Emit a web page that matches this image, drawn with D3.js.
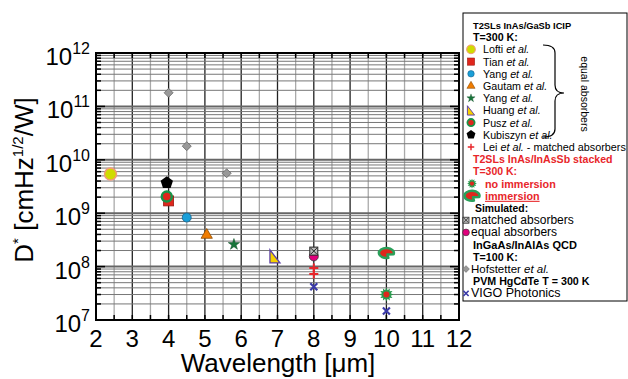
<!DOCTYPE html>
<html>
<head>
<meta charset="utf-8">
<script src="https://cdn.jsdelivr.net/npm/d3@7"></script>
<style>
body { margin: 0; background: #fff; }
text { font-family: "Liberation Sans", Arial, sans-serif; }
</style>
</head>
<body>
<svg id="chart" width="628" height="379"></svg>
<script>
// [wavelength (um), D* (cmHz^1/2/W)]
var lofti = [[2.4, 5.4e9]];
var tian = [[4.0, 1.7e9]];
var yangCircle = [[4.5, 8.3e8]];
var gautam = [[5.05, 3.9e8]];
var yangStar = [[5.8, 2.6e8]];
var huang = [[6.93, 1.55e8]];
var pusz = [[3.95, 2.05e9]];
var kubiszyn = [[3.95, 3.7e9]];
var lei = [[8, 9.4e7], [8, 7.3e7]];
var noImmersion = [[10, 3.0e7]];
var immersion = [[10, 1.8e8]];
var simEqual = [[8, 1.55e8]];
var simMatched = [[8, 1.95e8]];
var hofstetter = [[4, 1.8e11], [4.5, 1.8e10], [5.6, 5.6e9]];
var vigo = [[8, 4.2e7], [10, 1.47e7]];

var xTicks = [2, 3, 4, 5, 6, 7, 8, 9, 10, 11, 12];
var yExponents = [7, 8, 9, 10, 11, 12];

var legendRows = [
    { text: 'T2SLs InAs/GaSb ICIP', head: true },
    { text: 'T=300 K:', head: true },
    { name: 'Lofti', etal: true, marker: 'lofti' },
    { name: 'Tian', etal: true, marker: 'tian' },
    { name: 'Yang', etal: true, marker: 'yangCircle' },
    { name: 'Gautam', etal: true, marker: 'gautam' },
    { name: 'Yang', etal: true, marker: 'yangStar' },
    { name: 'Huang', etal: true, marker: 'huang' },
    { name: 'Pusz', etal: true, marker: 'pusz' },
    { name: 'Kubiszyn', etal: true, marker: 'kubiszyn' },
    { name: 'Lei', etal: true, rest: ' - matched absorbers', marker: 'lei' },
    { text: 'T2SLs InAs/InAsSb stacked', head: true, red: true },
    { text: 'T=300 K:', head: true, red: true },
    { name: 'no immersion', red: true, marker: 'noImmersion' },
    { name: 'immersion', red: true, underline: true, marker: 'immersion' },
    { text: 'Simulated:', head: true },
    { name: 'matched absorbers', marker: 'simMatched', small: true },
    { name: 'equal absorbers', marker: 'simEqual', small: true },
    { text: 'InGaAs/InAlAs QCD', head: true },
    { text: 'T=100 K:', head: true },
    { name: 'Hofstetter', etal: true, marker: 'hofstetter', small: true },
    { text: 'PVM HgCdTe T = 300 K', head: true },
    { name: 'VIGO Photonics', marker: 'vigo', small: true }
];

var svg = d3.select('#chart');
var pL = 96, pR = 459, pT = 53, pB = 320;

var x = d3.scaleLinear().domain([2, 12]).range([pL, pR]);
var y = d3.scaleLog().domain([1e7, 1e12]).range([pB, pT]);

var grid = svg.append('g');

// vertical grid every 0.5 um
x.ticks(20).forEach(function (t) {
    if (t == 2 || t == 12) return;
    grid.append('line')
        .attr('x1', x(t)).attr('x2', x(t))
        .attr('y1', pT).attr('y2', pB)
        .attr('stroke', t % 1 == 0 ? '#222' : '#aaa')
        .attr('stroke-width', 1.3);
});

// horizontal log grid
yExponents.forEach(function (e) {
    if (e == 12) return;
    for (var m = 1; m < 10; m++) {
        var v = m * Math.pow(10, e);
        if (m == 1 && e == 7) continue;
        grid.append('line')
            .attr('x1', pL).attr('x2', pR)
            .attr('y1', y(v)).attr('y2', y(v))
            .attr('stroke', m == 1 ? '#666' : '#777')
            .attr('stroke-width', m == 1 ? 2 : 1);
    }
});

// inward ticks
var ticks = svg.append('g').attr('stroke', '#000').attr('stroke-width', 1.5);
x.ticks(20).forEach(function (t) {
    ticks.append('line').attr('x1', x(t)).attr('x2', x(t)).attr('y1', pB).attr('y2', pB - 5);
    ticks.append('line').attr('x1', x(t)).attr('x2', x(t)).attr('y1', pT).attr('y2', pT + 5);
});
yExponents.forEach(function (e) {
    for (var m = 1; m < 10; m++) {
        var v = m * Math.pow(10, e);
        if (v > 1e12) break;
        var len = m == 1 ? 9 : 5;
        ticks.append('line').attr('x1', pL).attr('x2', pL + len).attr('y1', y(v)).attr('y2', y(v));
        ticks.append('line').attr('x1', pR).attr('x2', pR - len).attr('y1', y(v)).attr('y2', y(v));
    }
});

// frame
svg.append('rect')
    .attr('x', pL).attr('y', pT)
    .attr('width', pR - pL).attr('height', pB - pT)
    .attr('fill', 'none').attr('stroke', '#000').attr('stroke-width', 2);

// tick labels
svg.selectAll('.xlab')
    .data(xTicks).enter()
    .append('text')
    .attr('x', function (d) { return x(d); })
    .attr('y', 347)
    .attr('text-anchor', 'middle')
    .attr('font-size', 24)
    .text(function (d) { return d; });

var ylab = svg.selectAll('.ylab')
    .data(yExponents).enter()
    .append('text')
    .attr('x', 90)
    .attr('y', function (d) { return y(Math.pow(10, d)) + 12; })
    .attr('text-anchor', 'end')
    .attr('font-size', 24);
ylab.append('tspan').text('10');
ylab.append('tspan').attr('dy', -11).attr('font-size', 16).text(function (d) { return d; });

// axis titles
svg.append('text')
    .attr('x', 278).attr('y', 372)
    .attr('text-anchor', 'middle')
    .attr('font-size', 26)
    .text('Wavelength [\u03bcm]');

var yt = svg.append('text')
    .attr('transform', 'translate(33,180) rotate(-90)')
    .attr('text-anchor', 'middle')
    .attr('font-size', 26);
yt.append('tspan').text('D');
yt.append('tspan').attr('dy', -10).attr('font-size', 15).text('*');
yt.append('tspan').attr('dy', 10).text(' [cmHz');
yt.append('tspan').attr('dy', -10).attr('font-size', 15).text('1/2');
yt.append('tspan').attr('dy', 10).text('/W]');

// marker drawing
function drawMarker(g, kind) {
    var sym = d3.symbol();
    if (kind == 'lofti') {
        g.append('circle').attr('r', 6).attr('fill', '#cfdc00').attr('stroke', '#f29a78').attr('stroke-width', 1.5);
    } else if (kind == 'tian') {
        g.append('rect').attr('x', -5).attr('y', -5).attr('width', 10).attr('height', 10)
            .attr('fill', '#e0261c').attr('stroke', '#9b1a12').attr('stroke-width', 0.8);
    } else if (kind == 'yangCircle') {
        g.append('circle').attr('r', 4.5).attr('fill', '#1a9fd8').attr('stroke', '#15608a').attr('stroke-width', 0.8);
    } else if (kind == 'gautam') {
        g.append('path').attr('d', sym.type(d3.symbolTriangle).size(55)())
            .attr('fill', '#f07c00').attr('stroke', '#8a4a00').attr('stroke-width', 0.8);
    } else if (kind == 'yangStar') {
        g.append('path').attr('d', sym.type(d3.symbolStar).size(40)())
            .attr('fill', '#17753a').attr('stroke', '#0e4a24').attr('stroke-width', 0.5);
    } else if (kind == 'huang') {
        g.append('path').attr('d', 'M-5,-6.5 L5,6.5 L-5,6.5 Z')
            .attr('fill', '#f5d000').attr('stroke', '#5b3fa5').attr('stroke-width', 1.3);
    } else if (kind == 'pusz') {
        g.append('circle').attr('r', 5).attr('fill', '#e0261c').attr('stroke', '#179448').attr('stroke-width', 2.5);
    } else if (kind == 'kubiszyn') {
        var pts = d3.range(5).map(function (i) {
            var a = -Math.PI / 2 + i * 2 * Math.PI / 5;
            return [6.5 * Math.cos(a), 6.5 * Math.sin(a)];
        });
        g.append('path').attr('d', 'M' + pts.join('L') + 'Z').attr('fill', '#000');
    } else if (kind == 'lei') {
        g.append('path').attr('d', 'M-4.5,0H4.5M0,-4.5V4.5')
            .attr('stroke', '#e8262a').attr('stroke-width', 2);
    } else if (kind == 'noImmersion') {
        var burst = d3.range(24).map(function (i) {
            var a = i * Math.PI / 12;
            var r = i % 2 == 0 ? 7 : 4.5;
            return [r * Math.cos(a), r * Math.sin(a)];
        });
        g.append('path').attr('d', 'M' + burst.join('L') + 'Z').attr('fill', '#2a9a4e');
        g.append('circle').attr('r', 3).attr('fill', '#e0261c');
    } else if (kind == 'immersion') {
        var rx = 7.5, ry = 5, a1 = 15 * Math.PI / 180, a2 = 75 * Math.PI / 180;
        g.append('path')
            .attr('d', 'M1,1.5L' + rx * Math.cos(a2) + ',' + ry * Math.sin(a2) +
                'A' + rx + ',' + ry + ' 0 1,1 ' + rx * Math.cos(a1) + ',' + ry * Math.sin(a1) + 'Z')
            .attr('fill', '#e0261c').attr('stroke', '#2aa05a').attr('stroke-width', 2.5)
            .attr('stroke-linejoin', 'round');
    } else if (kind == 'simMatched') {
        g.append('rect').attr('x', -4).attr('y', -4).attr('width', 8).attr('height', 8)
            .attr('fill', '#bbb').attr('stroke', '#222').attr('stroke-width', 1);
        g.append('path').attr('d', 'M-3,-3L3,3M-3,3L3,-3').attr('stroke', '#222').attr('stroke-width', 1);
    } else if (kind == 'simEqual') {
        g.append('circle').attr('r', 4.5).attr('fill', '#e0007c').attr('stroke', '#333').attr('stroke-width', 0.8);
    } else if (kind == 'hofstetter') {
        g.append('path').attr('d', 'M0,-4.5L4.5,0L0,4.5L-4.5,0Z')
            .attr('fill', '#999').attr('stroke', '#666').attr('stroke-width', 0.8);
    } else if (kind == 'vigo') {
        g.append('path').attr('d', 'M-3.5,-3.5L3.5,3.5M-3.5,3.5L3.5,-3.5')
            .attr('stroke', '#3a3aa8').attr('stroke-width', 2.2);
    }
}

var seriesList = [
    ['hofstetter', hofstetter], ['lofti', lofti], ['tian', tian], ['kubiszyn', kubiszyn],
    ['pusz', pusz], ['yangCircle', yangCircle], ['gautam', gautam], ['yangStar', yangStar],
    ['huang', huang], ['simEqual', simEqual], ['simMatched', simMatched], ['lei', lei],
    ['vigo', vigo], ['immersion', immersion], ['noImmersion', noImmersion]
];

var marks = svg.append('g');
seriesList.forEach(function (s) {
    marks.selectAll('.m-' + s[0])
        .data(s[1]).enter()
        .append('g')
        .attr('transform', function (d) { return 'translate(' + x(d[0]) + ',' + y(d[1]) + ')'; })
        .each(function () { drawMarker(d3.select(this), s[0]); });
});

// legend
var legend = svg.append('g');
legend.append('rect')
    .attr('x', 463).attr('y', 13).attr('width', 164).attr('height', 288)
    .attr('fill', '#fff').attr('stroke', '#000').attr('stroke-width', 1);

// font sizes differ a bit from row to row in the original
function legendFont(i) {
    var sizes = { 0: 9.3, 10: 10.8, 11: 10.6, 12: 10.5, 13: 10.8, 14: 10.8, 15: 10.4,
        16: 12, 17: 12, 18: 11, 20: 11.5, 22: 12.5 };
    return sizes[i] || 10.7;
}

legendRows.forEach(function (r, i) {
    var by = 29 + i * 12.2;
    if (r.head) {
        legend.append('text')
            .attr('x', i == 15 ? 475 : 473).attr('y', by)
            .attr('font-size', legendFont(i)).attr('font-weight', 'bold')
            .attr('fill', r.red ? '#e8262a' : '#000')
            .text(r.text);
        return;
    }
    var mx = r.small ? 466 : 471;
    var tx = r.small ? 471 : 483;
    var sc = r.small ? 0.75 : 0.72;
    if (r.red) { mx = 472; tx = 485; sc = r.marker == 'immersion' ? 1 : 0.7; }
    var gm = legend.append('g').attr('transform', 'translate(' + mx + ',' + (by - 4) + ') scale(' + sc + ')');
    drawMarker(gm, r.marker);
    var t = legend.append('text')
        .attr('x', tx).attr('y', by)
        .attr('font-size', legendFont(i))
        .attr('fill', r.red ? '#e8262a' : '#000')
        .attr('font-weight', r.red ? 'bold' : 'normal')
        .attr('text-decoration', r.underline ? 'underline' : null);
    t.append('tspan').text(r.name + (r.etal ? ' ' : ''));
    if (r.etal) t.append('tspan').attr('font-style', 'italic').text('et al.');
    if (r.rest) t.append('tspan').text(r.rest);
});

// brace for equal absorbers
legend.append('path')
    .attr('d', 'M543,45 Q555,45 555,53 L555,85 Q555,93 564,93 Q555,93 555,101 L555,129 Q555,137 543,137')
    .attr('fill', 'none').attr('stroke', '#000').attr('stroke-width', 1.2);
legend.append('text')
    .attr('transform', 'translate(581,94) rotate(90)')
    .attr('text-anchor', 'middle')
    .attr('font-size', 10.5)
    .text('equal absorbers');
</script>
</body>
</html>
